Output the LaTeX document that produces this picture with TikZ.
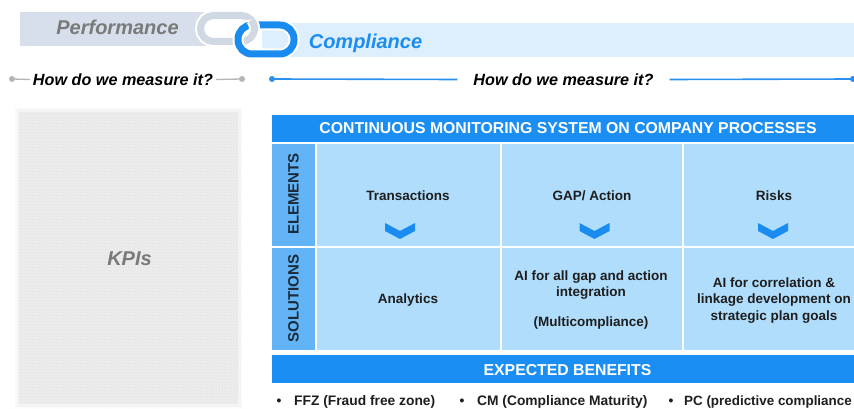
\documentclass[tikz,border=0pt]{standalone}
\usepackage{fontspec}
\setmainfont{Liberation Sans}
\usetikzlibrary{patterns}
\definecolor{hdrblue}{HTML}{1A8EF2}
\definecolor{cellblue}{HTML}{B0DDFC}
\definecolor{labblue}{HTML}{62B4F6}
\definecolor{labtext}{HTML}{1C2B3A}
\definecolor{perfbg}{HTML}{D6DFEB}
\definecolor{compbg}{HTML}{DDEEFC}
\definecolor{linkgray}{HTML}{D0D8E3}
\definecolor{linkblue}{HTML}{1A8CF0}
\definecolor{perftext}{HTML}{7A7A7A}
\definecolor{comptext}{HTML}{1C8DF0}
\definecolor{rulegray}{HTML}{B5B5B5}
\definecolor{ruleblue}{HTML}{2A90EE}
\definecolor{kpibg}{HTML}{ECECEC}
\definecolor{kpidot}{HTML}{D4D4D4}
\definecolor{txtdark}{HTML}{1E1E1E}
\tikzset{
  celltxt/.style={font=\fontsize{13.5}{16.5}\selectfont\bfseries, text=txtdark, inner sep=0pt, align=center},
  bartxt/.style={font=\fontsize{15.8}{18}\selectfont\bfseries, text=white, inner sep=0pt, anchor=base},
  labtxt/.style={font=\fontsize{15}{18}\selectfont\bfseries, text=labtext, rotate=90, inner sep=0pt},
  qtxt/.style={font=\fontsize{16.2}{20}\selectfont\bfseries\itshape, text=black, inner ysep=0pt},
  bultxt/.style={font=\fontsize{13.8}{16}\selectfont\bfseries, text=txtdark, inner sep=0pt, anchor=base west},
  bulmark/.style={font=\fontsize{13.8}{16}\selectfont\bfseries, text=txtdark, inner sep=0pt, anchor=base},
  chev/.pic={\fill[linkblue] (-15,-8) -- (0,0) -- (15,-8) -- (15,0) -- (0,8) -- (-15,0) -- cycle;},
  ringout/.style={white, line width=11pt},
  ringgray/.style={linkgray, line width=7pt},
  ringblue/.style={linkblue, line width=7pt}
}
\begin{document}
\begin{tikzpicture}[x=1pt,y=-1pt]
\useasboundingbox (0,0) rectangle (854,409);
\fill[white] (0,0) rectangle (854,409);

% banners
\fill[perfbg] (20,12) rectangle (206,46);
\fill[compbg] (262,23) rectangle (854,57);
\node[perftext, font=\fontsize{20}{24}\selectfont\bfseries\itshape, inner sep=0pt, anchor=base] (perf) at (117.5,35) {Performance};
\node[comptext, font=\fontsize{20}{24}\selectfont\bfseries\itshape, inner sep=0pt, anchor=base] (comp) at (365.5,48.5) {Compliance};

% chain link
\draw[ringout, rounded corners=13pt] (200.5,15.5) rectangle (254.5,41.5);
\draw[ringgray, rounded corners=13pt] (200.5,15.5) rectangle (254.5,41.5);
\draw[ringout, rounded corners=14pt] (238,25) rectangle (294,54);
\draw[ringblue, rounded corners=14pt] (238,25) rectangle (294,54);
\draw[ringout] (251.46,20.14) arc[start angle=-40, end angle=15, radius=13];
\draw[ringgray] (251.46,20.14) arc[start angle=-40, end angle=15, radius=13];

% measure lines
\coordinate (l1) at (12,79);
\coordinate (l2) at (242,79);
\node[qtxt, inner xsep=3pt] (lq) at (123,79.5) {How do we measure it?};
\draw[rulegray, line width=1.3pt] (l1) -- (lq.west);
\draw[rulegray, line width=1.3pt] (lq.east) -- (l2);
\fill[rulegray] (l1) circle[radius=3];
\fill[rulegray] (l2) circle[radius=3];

\coordinate (r1) at (272,79);
\coordinate (r2) at (853,79);
\node[qtxt, inner xsep=16pt] (rq) at (563.5,79.5) {How do we measure it?};
\draw[ruleblue, line width=1.6pt] (r1) -- (rq.west);
\draw[ruleblue, line width=1.6pt] (rq.east) -- (r2);
\fill[ruleblue] (r1) circle[radius=3];
\fill[ruleblue] (r2) circle[radius=3];

% KPI panel
\fill[kpibg] (15,108) rectangle (242,408);
\fill[pattern=dots, pattern color=kpidot] (15,108) rectangle (242,408);
\draw[white, line width=8pt, opacity=0.5] (15,108) rectangle (242,408);
\draw[white, line width=3pt, opacity=0.6] (15,108) rectangle (242,408);
\node[perftext, font=\fontsize{20}{24}\selectfont\bfseries\itshape, inner sep=0pt] (kpi) at (129.5,259) {KPIs};

% table
\fill[hdrblue] (272,115) rectangle (854,142);
\node[bartxt] (hdr) at (568,134) {CONTINUOUS MONITORING SYSTEM ON COMPANY PROCESSES};

\fill[labblue] (272,144) rectangle (315,245.5);
\fill[labblue] (272,247.5) rectangle (315,350);
\fill[cellblue] (317,144) rectangle (499.5,245.5);
\fill[cellblue] (501.5,144) rectangle (682,245.5);
\fill[cellblue] (684,144) rectangle (854,245.5);
\fill[cellblue] (317,247.5) rectangle (499.5,350);
\fill[cellblue] (501.5,247.5) rectangle (682,350);
\fill[cellblue] (684,247.5) rectangle (854,350);

\node[labtxt] (elem) at (293.5,194) {ELEMENTS};
\node[labtxt] (sol) at (293.5,298.3) {SOLUTIONS};

\node[celltxt, anchor=base] (trans) at (408,200) {Transactions};
\node[celltxt, anchor=base] (gap) at (592,200) {GAP/ Action};
\node[celltxt, anchor=base] (risk) at (774,200) {Risks};
\pic at (400,231) {chev};
\pic at (594.5,231) {chev};
\pic at (773,231) {chev};

\node[celltxt, anchor=base] (ana) at (408,303) {Analytics};
\node[celltxt] (aigap) at (591,299.7) {AI for all gap and action\\integration\\[13pt](Multicompliance)};
\node[celltxt] (aicor) at (774,300.5) {AI for correlation \&\\linkage development on\\strategic plan goals};

\fill[hdrblue] (272,355) rectangle (854,383);
\node[bartxt] (ben) at (567.5,375) {EXPECTED BENEFITS};

% bullets
\node[bulmark] (b1) at (279,405.5) {•};
\node[bultxt] (t1) at (294,405.5) {FFZ (Fraud free zone)};
\node[bulmark] (b2) at (462,405.5) {•};
\node[bultxt] (t2) at (477,405.5) {CM (Compliance Maturity)};
\node[bulmark] (b3) at (671,405.5) {•};
\node[bultxt, font=\fontsize{13.4}{16}\selectfont\bfseries] (t3) at (684,405.5) {PC (predictive compliance};
\end{tikzpicture}
\end{document}
